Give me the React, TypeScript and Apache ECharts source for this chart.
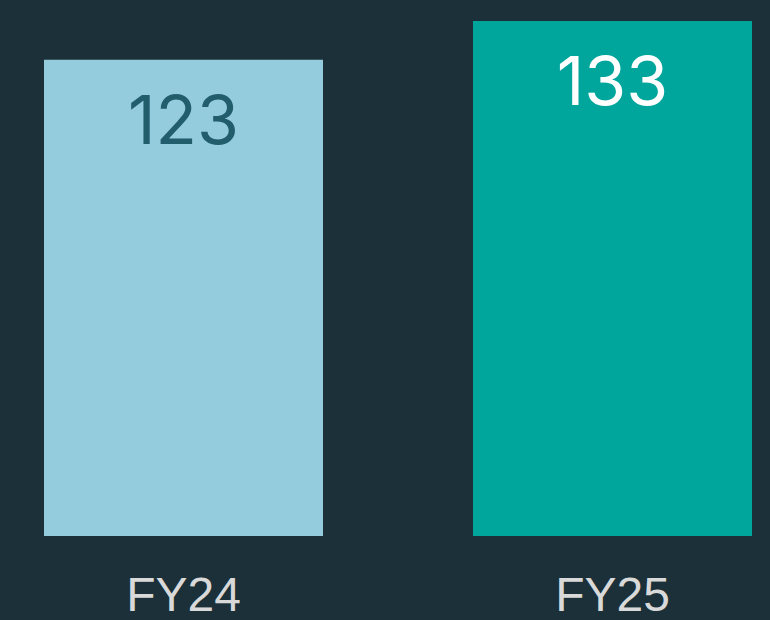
import React, { useEffect, useRef } from "react";
import * as echarts from "echarts";

const categories = ["FY24", "FY25"];
const values = [123, 133];
const barColors = ["#94cbdd", "#00a59c"];
const labelColors = ["#225d6c", "#ffffff"];

export default function App() {
  const ref = useRef<HTMLDivElement>(null);
  useEffect(() => {
    if (!ref.current) return;
    const chart = echarts.init(ref.current, null, { renderer: "svg" });
    chart.setOption({
      animation: false,
      backgroundColor: "#1b3038",
      grid: {
        left: -31,
        right: -57,
        top: 21,
        bottom: 84,
        containLabel: false,
        outerBoundsMode: "none",
      },
      xAxis: {
        type: "category",
        data: categories,
        axisLine: { show: false },
        axisTick: { show: false },
        axisLabel: {
          color: "#d9d9d9",
          fontSize: 48,
          fontFamily: "'Liberation Sans', Arial, sans-serif",
          margin: 34,
        },
      },
      yAxis: {
        type: "value",
        min: 0,
        max: 133,
        show: false,
        splitLine: { show: false },
      },
      series: [
        {
          type: "bar",
          barWidth: 279,
          data: values.map((v, i) => ({
            value: v,
            itemStyle: { color: barColors[i] },
            label: { color: labelColors[i] },
          })),
          label: {
            show: true,
            position: "insideTop",
            distance: 25,
            fontSize: 68,
            fontFamily: "Inter, sans-serif",
            fontWeight: "normal",
          },
        },
      ],
    });
    return () => chart.dispose();
  }, []);
  return <div ref={ref} style={{ width: 770, height: 620, position: "absolute", left: 0, top: 0 }} />;
}
